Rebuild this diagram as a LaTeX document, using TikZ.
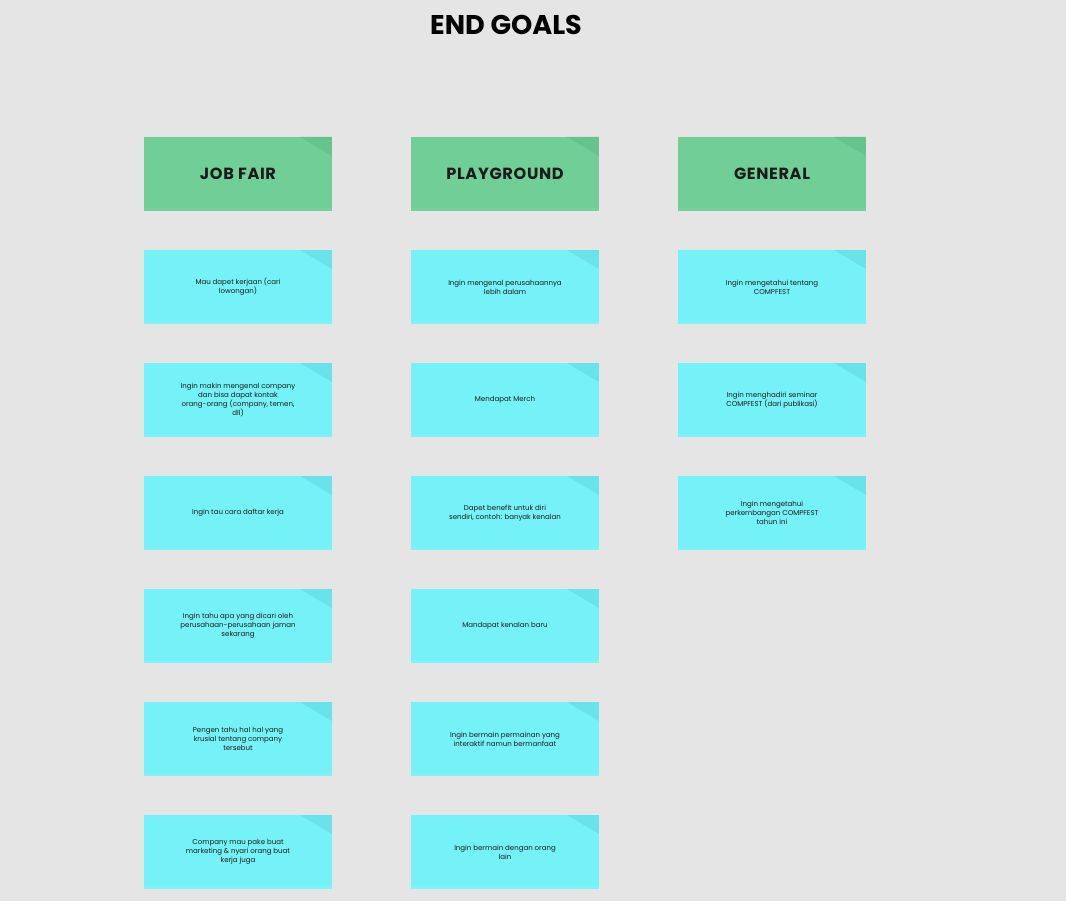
\documentclass[tikz,border=0pt]{standalone}
\usepackage{fontspec}
\setmainfont{Poppins}
\newfontfamily\headfont[LetterSpace=4]{Poppins}
\usepackage{xcolor}
\usetikzlibrary{positioning}
\definecolor{canvas}{HTML}{E5E5E5}
\definecolor{headgreen}{HTML}{70CF97}
\definecolor{headfold}{HTML}{67C38C}
\definecolor{notecyan}{HTML}{75F2F7}
\definecolor{notefold}{HTML}{6AE2EA}
\definecolor{inktext}{HTML}{1A1A1A}

\begin{document}
\begin{tikzpicture}[
            x=0.02cm, y=-0.02cm,
            text=inktext,
            title/.style={font=\fontsize{15.4}{18}\selectfont\bfseries, text=black},
            sticky/.style={minimum width=3.76cm, minimum height=1.48cm, inner sep=0pt, align=center,
                           path picture={
                               \fill[#1] ([xshift=-0.64cm]path picture bounding box.north east)
                                   -- (path picture bounding box.north east)
                                   -- ([yshift=-0.38cm]path picture bounding box.north east) -- cycle;
                               \fill[white, opacity=0.06] (path picture bounding box.south west)
                                   rectangle ([yshift=0.05cm]path picture bounding box.south east);
                           }},
            header/.style={sticky=headfold, fill=headgreen, font=\headfont\fontsize{9.2}{11}\selectfont\bfseries},
            note/.style={sticky=notefold, fill=notecyan, font=\fontsize{4.0}{5.0}\selectfont}
        ]
            \fill[canvas] (0,0) rectangle (1066,901);
            \useasboundingbox (0,0) rectangle (1066,901);

            \node[title] (endgoals) at (506,25) {END GOALS};

            % column headers
            \node[header] (jobfair) at (238,174) {JOB FAIR};
            \node[header] (playground) at (505,174) {PLAYGROUND};
            \node[header] (general) at (772,174) {GENERAL};

            % job fair
            \node[note] (jf1) at (238,287) {Mau dapet kerjaan (cari\\lowongan)};
            \node[note] (jf2) at (238,400) {Ingin makin mengenal company\\dan bisa dapat kontak\\orang-orang (company, temen,\\dll)};
            \node[note] (jf3) at (238,513) {Ingin tau cara daftar kerja};
            \node[note] (jf4) at (238,626) {Ingin tahu apa yang dicari oleh\\perusahaan-perusahaan jaman\\sekarang};
            \node[note] (jf5) at (238,739) {Pengen tahu hal hal yang\\krusial tentang company\\tersebut};
            \node[note] (jf6) at (238,852) {Company mau pake buat\\marketing \& nyari orang buat\\kerja juga};

            % playground
            \node[note] (pg1) at (505,287) {Ingin mengenal perusahaannya\\lebih dalam};
            \node[note] (pg2) at (505,400) {Mendapat Merch};
            \node[note] (pg3) at (505,513) {Dapet benefit untuk diri\\sendiri, contoh: banyak kenalan};
            \node[note] (pg4) at (505,626) {Mandapat kenalan baru};
            \node[note] (pg5) at (505,739) {Ingin bermain permainan yang\\interaktif namun bermanfaat};
            \node[note] (pg6) at (505,852) {Ingin bermain dengan orang\\lain};

            % general
            \node[note] (gn1) at (772,287) {Ingin mengetahui tentang\\COMPFEST};
            \node[note] (gn2) at (772,400) {Ingin menghadiri seminar\\COMPFEST (dari publikasi)};
            \node[note] (gn3) at (772,513) {Ingin mengetahui\\perkembangan COMPFEST\\tahun ini};
        \end{tikzpicture}
\end{document}
